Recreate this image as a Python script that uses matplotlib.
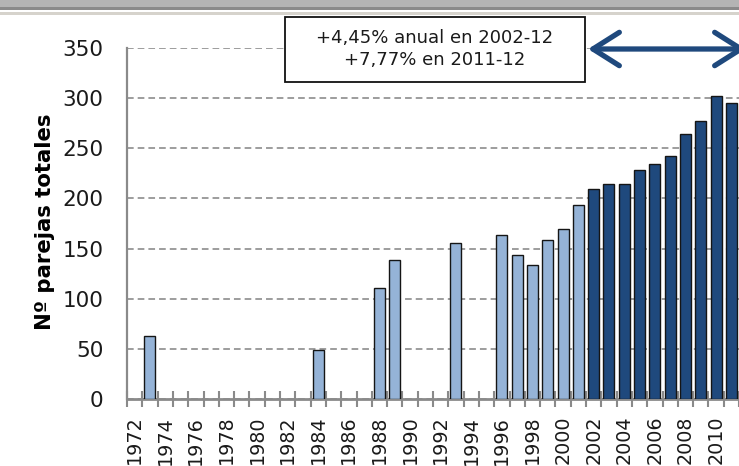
import matplotlib
matplotlib.use("Agg")
import matplotlib.pyplot as plt
from matplotlib.patches import Rectangle, FancyArrowPatch, ArrowStyle
from matplotlib.ticker import FixedLocator, MultipleLocator

plt.rcParams['lines.scale_dashes'] = False

# data
years_light = [1973, 1984, 1988, 1989, 1993, 1996, 1997, 1998, 1999, 2000, 2001]
pairs_light = [63, 49, 111, 139, 156, 164, 144, 134, 159, 170, 193]
years_dark = [2002, 2003, 2004, 2005, 2006, 2007, 2008, 2009, 2010, 2011]
pairs_dark = [209, 214, 214, 228, 234, 242, 264, 277, 302, 295]
tick_years = list(range(1972, 2011, 2))
box_lines = ["+4,45% anual en 2002-12", "+7,77% en 2011-12"]
ylabel = "Nº parejas totales"

W, H = 739, 466
fig = plt.figure(figsize=(W / 100, H / 100), dpi=100)

# window decoration at the top of the screenshot
fig.add_artist(Rectangle((0, 1 - 7 / H), 1, 7 / H, transform=fig.transFigure,
                         color='#b4b4b4', lw=0))
fig.add_artist(Rectangle((0, 1 - 10 / H), 1, 3 / H, transform=fig.transFigure,
                         color='#8a8a8a', lw=0))
fig.add_artist(Rectangle((0, 1 - 15 / H), 1, 3 / H, transform=fig.transFigure,
                         color='#d6d3cc', lw=0))

# axes run past the right edge, like the cropped original
x0, x1 = 1971.5, 2012.5
step = 15.3
ax = fig.add_axes([127 / W, (H - 399) / H, (x1 - x0) * step / W, (399 - 48) / H])

ax.bar(years_light, pairs_light, width=0.72, color='#95b3d7',
       edgecolor='#151515', linewidth=1.0, zorder=3)
ax.bar(years_dark, pairs_dark, width=0.72, color='#1f497d',
       edgecolor='#151515', linewidth=1.0, zorder=3)

ax.set_xlim(x0, x1)
ax.set_ylim(0, 350)
ax.set_axisbelow(True)

ax.yaxis.set_major_locator(MultipleLocator(50))
ax.yaxis.grid(True, color='#8c8c8c', linewidth=1.2, linestyle=(0, (4.8, 2.9)))
ax.tick_params(axis='y', length=0, pad=17, labelsize=15.5, labelcolor='#1a1a1a')

ax.xaxis.set_major_locator(FixedLocator(tick_years))
ax.xaxis.set_minor_locator(MultipleLocator(1, offset=0.5))
ax.set_xticklabels([str(y) for y in tick_years], rotation=90, va='top', ha='center')
ax.tick_params(axis='x', which='major', length=0, pad=12, labelsize=13.8,
               labelcolor='#1a1a1a')
ax.tick_params(axis='x', which='minor', direction='inout', length=11,
               width=1.5, color='#8a8a8a')

for s in ['top', 'right']:
    ax.spines[s].set_visible(False)
ax.spines['left'].set_color('#8a8a8a')
ax.spines['left'].set_linewidth(1.6)
ax.spines['bottom'].set_color('#8a8a8a')
ax.spines['bottom'].set_linewidth(2.0)

fig.text(45 / W, 1 - 222 / H, ylabel, rotation=90, ha='center', va='center',
         fontsize=15.3, fontweight='bold')

# annotation box
bx0, by0, bx1, by1 = 285, 17, 585, 82
fig.add_artist(Rectangle((bx0 / W, 1 - by1 / H), (bx1 - bx0) / W, (by1 - by0) / H,
                         transform=fig.transFigure, facecolor='white',
                         edgecolor='#111111', lw=1.3, zorder=5))
fig.text((bx0 + bx1) / 2 / W, 1 - 38 / H, box_lines[0], ha='center', va='center',
         fontsize=13, color='#1a1a1a', zorder=6)
fig.text((bx0 + bx1) / 2 / W, 1 - 60 / H, box_lines[1], ha='center', va='center',
         fontsize=13, color='#1a1a1a', zorder=6)

arrow = FancyArrowPatch((588 / W, 1 - 49 / H), (746 / W, 1 - 49 / H),
                        transform=fig.transFigure,
                        arrowstyle=ArrowStyle('<->', head_length=19, head_width=12),
                        mutation_scale=1, shrinkA=0, shrinkB=0, lw=3.8,
                        color='#1f497d', capstyle='round', joinstyle='round',
                        zorder=6)
fig.add_artist(arrow)

fig.savefig("out.png", dpi=100)
